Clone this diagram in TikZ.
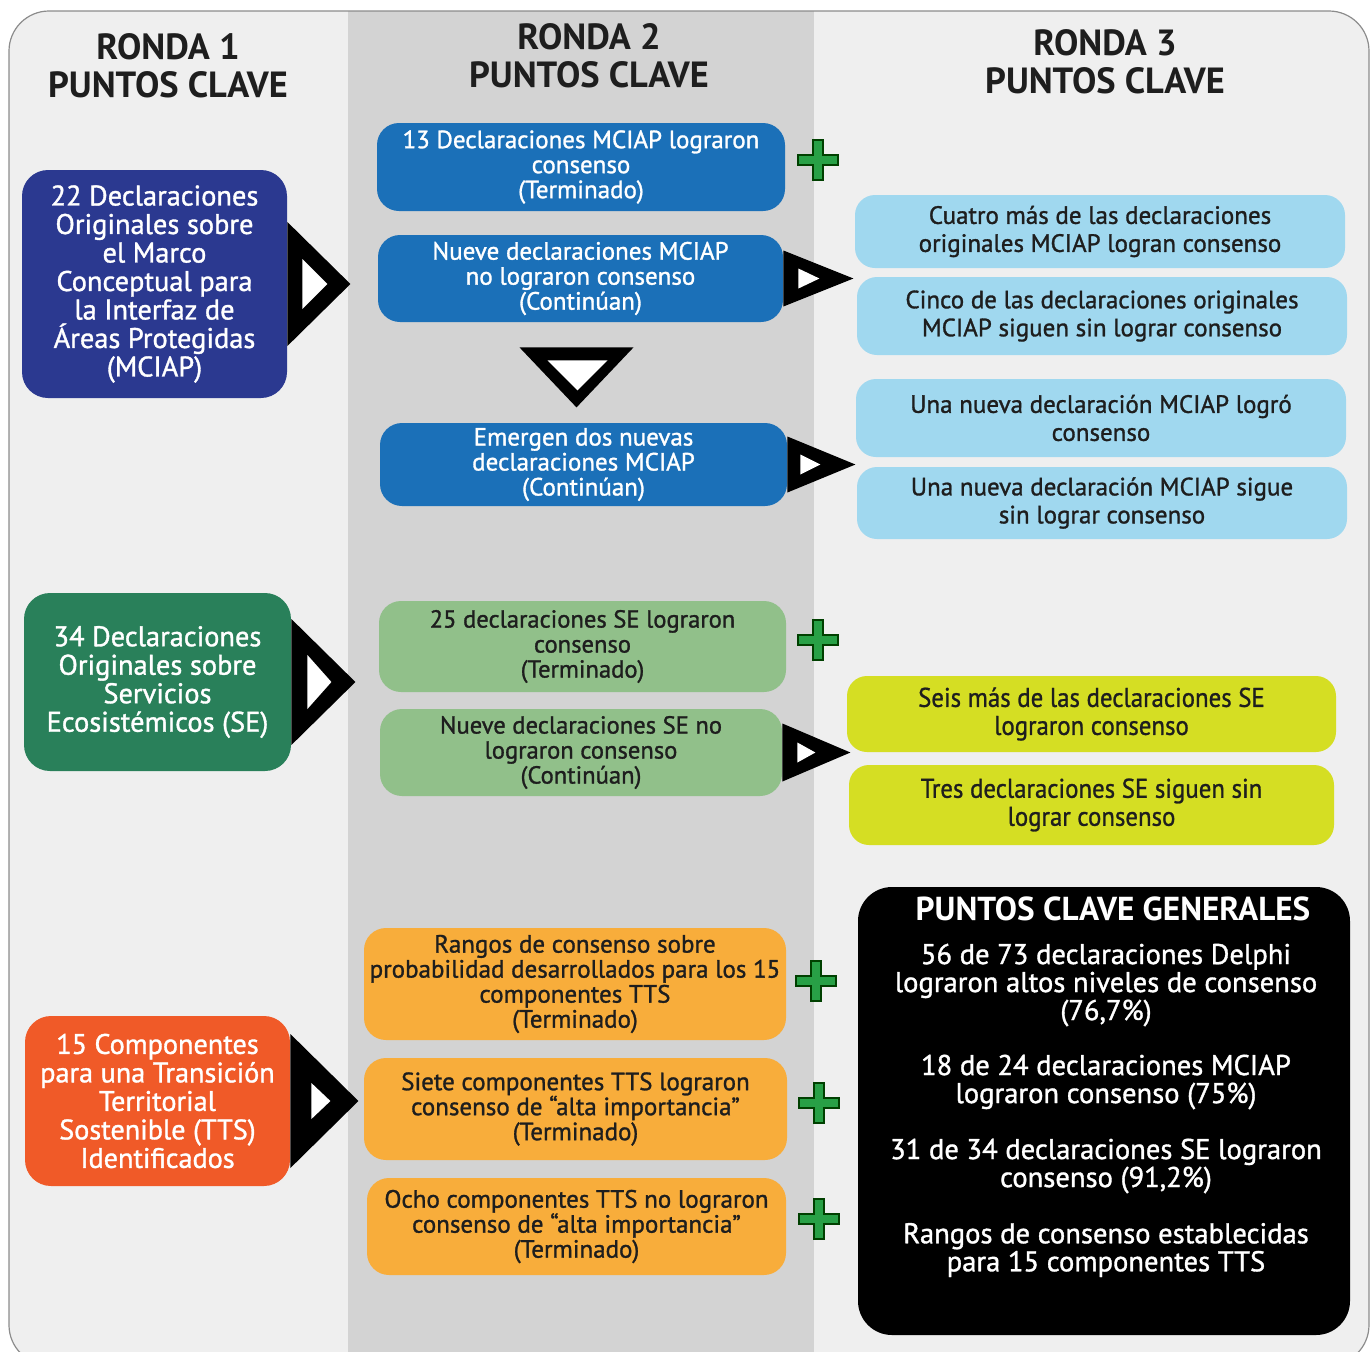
\documentclass[tikz,border=0pt]{standalone}
\usepackage{fontspec}
\setmainfont{PT Sans}
\newfontfamily\bodyf{PT Sans}[FakeBold=1.2]
\newfontfamily\condf{PT Sans}[FakeStretch=0.92,FakeBold=1.0]
\newfontfamily\headf{PT Sans}
\usetikzlibrary{calc}
\definecolor{bgc}{RGB}{239,239,239}
\definecolor{midc}{RGB}{211,211,211}
\definecolor{navyc}{RGB}{43,57,144}
\definecolor{bluec}{RGB}{27,112,184}
\definecolor{lbluec}{RGB}{160,216,239}
\definecolor{dgreenc}{RGB}{41,128,90}
\definecolor{lgreenc}{RGB}{145,192,138}
\definecolor{yellowc}{RGB}{213,222,35}
\definecolor{redc}{RGB}{240,90,40}
\definecolor{orangec}{RGB}{248,173,59}
\definecolor{plusc}{RGB}{40,160,70}
\definecolor{darkc}{RGB}{30,30,30}
\newcommand\rtri[6]{%
  \fill[black] ($(#1)+(0,-#3)$) -- ($(#1)+(#2,0)$) -- ($(#1)+(0,#3)$) -- cycle;
  \fill[white] ($(#1)+(#4,-#6)$) -- ($(#1)+(#5,0)$) -- ($(#1)+(#4,#6)$) -- cycle;}
\tikzset{
  x=0.5pt, y=-0.5pt,
  box/.style={rounded corners=11pt, align=center, inner sep=2pt},
  head/.style={align=center, font=\headf\bfseries\fontsize{18.2}{19}\selectfont, text=darkc},
  plusmark/.pic={\filldraw[fill=plusc, draw=black!75!green, line width=0.6pt]
    (-5,-20) -- (5,-20) -- (5,-5) -- (20,-5) -- (20,5) -- (5,5) -- (5,20) -- (-5,20)
    -- (-5,5) -- (-20,5) -- (-20,-5) -- (-5,-5) -- cycle;}
}
\begin{document}
\begin{tikzpicture}
\useasboundingbox (0,0) rectangle (1372,1351);
\fill[white] (0,0) rectangle (1372,1351);
\begin{scope}
  \clip[rounded corners=20pt] (9,11) rectangle (1369,1365);
  \fill[bgc] (0,0) rectangle (1372,1400);
  \fill[midc] (348,0) rectangle (814,1400);
\end{scope}
\draw[black!45, line width=0.6pt, rounded corners=20pt] (9,11) rectangle (1369,1365);

% headers
\node[head] (h1) at (168,66) {RONDA 1\\PUNTOS CLAVE};
\node[head] (h2) at (589,56) {RONDA 2\\PUNTOS CLAVE};
\node[head] (h3) at (1105,62) {RONDA 3\\PUNTOS CLAVE};

% left boxes
\node[box, rounded corners=13pt, fill=navyc, text=white, minimum width=132.5pt, minimum height=114pt,
  font=\bodyf\fontsize{14.2}{14.25}\selectfont] (navy) at (154.5,284)
  {22 Declaraciones\\Originales sobre\\el Marco\\Conceptual para\\la Interfaz de\\Áreas Protegidas\\(MCIAP)};
\node[box, rounded corners=13pt, fill=dgreenc, text=white, minimum width=133.5pt, minimum height=89pt,
  font=\bodyf\fontsize{14.2}{14.25}\selectfont] (dgreen) at (157.5,682)
  {34 Declaraciones\\Originales sobre\\Servicios\\Ecosistémicos (SE)};
\node[box, rounded corners=13pt, fill=redc, text=white, minimum width=132.5pt, minimum height=85pt,
  font=\bodyf\fontsize{14.1}{14.25}\selectfont] (red) at (157.5,1101)
  {15 Componentes\\para una Transición\\Territorial\\Sostenible (TTS)\\Identificados};

% middle blue boxes
\node[box, fill=bluec, text=white, minimum width=204pt, minimum height=44pt,
  font=\bodyf\fontsize{12.5}{12.5}\selectfont] (b1) at (581,167)
  {13 Declaraciones MCIAP lograron\\consenso\\(Terminado)};
\node[box, fill=bluec, text=white, minimum width=202.5pt, minimum height=43.5pt,
  font=\bodyf\fontsize{12.5}{12.5}\selectfont] (b2) at (580.5,278.5)
  {Nueve declaraciones MCIAP\\no lograron consenso\\(Continúan)};
\node[box, fill=bluec, text=white, minimum width=203.5pt, minimum height=41.5pt,
  font=\bodyf\fontsize{12.5}{12.5}\selectfont] (b3) at (583.5,464.5)
  {Emergen dos nuevas\\declaraciones MCIAP\\(Continúan)};

% light blue boxes
\tikzset{lb/.style={box, rounded corners=10pt, fill=lbluec, text=darkc, minimum width=245pt,
  font=\bodyf\fontsize{12.5}{14}\selectfont}}
\node[lb, minimum height=36.5pt] (lb1) at (1100,231.5)
  {Cuatro más de las declaraciones\\originales MCIAP logran consenso};
\node[lb, minimum height=39pt] (lb2) at (1102,316)
  {Cinco de las declaraciones originales\\MCIAP siguen sin lograr consenso};
\node[lb, minimum height=39pt] (lb3) at (1101,418)
  {Una nueva declaración MCIAP logró\\consenso};
\node[lb, minimum height=36pt] (lb4) at (1102,503)
  {Una nueva declaración MCIAP sigue\\sin lograr consenso};

% middle green boxes
\tikzset{lg/.style={box, fill=lgreenc, text=darkc, font=\bodyf\fontsize{12.3}{12.5}\selectfont}}
\node[lg, minimum width=203.5pt, minimum height=45.5pt] (g1) at (582.5,646.5)
  {25 declaraciones SE lograron\\consenso\\(Terminado)};
\node[lg, minimum width=201pt, minimum height=43.5pt] (g2) at (581,752.5)
  {Nueve declaraciones SE no\\lograron consenso\\(Continúan)};

% yellow boxes
\tikzset{yb/.style={box, rounded corners=10pt, fill=yellowc, text=darkc, font=\condf\fontsize{13.5}{14}\selectfont}}
\node[yb, minimum width=244.5pt, minimum height=38pt] (y1) at (1091.5,714)
  {Seis más de las declaraciones SE\\lograron consenso};
\node[yb, minimum width=242.5pt, minimum height=40pt] (y2) at (1091.5,805)
  {Tres declaraciones SE siguen sin\\lograr consenso};

% orange boxes
\tikzset{ob/.style={box, fill=orangec, text=darkc, font=\bodyf\fontsize{12.5}{12.5}\selectfont}}
\node[ob, minimum width=211pt, minimum height=56pt] (o1) at (575,984)
  {Rangos de consenso sobre\\probabilidad desarrollados para los 15\\componentes TTS\\(Terminado)};
\node[ob, minimum width=211.5pt, minimum height=51pt] (o2) at (575.5,1109)
  {Siete componentes TTS lograron\\consenso de “alta importancia”\\(Terminado)};
\node[ob, minimum width=209.5pt, minimum height=48.5pt] (o3) at (576.5,1226.5)
  {Ocho componentes TTS no lograron\\consenso de “alta importancia”\\(Terminado)};

% black summary box
\node[box, rounded corners=17pt, fill=black, minimum width=246pt, minimum height=224pt] (sum) at (1104,1111) {};
\node[font=\headf\bfseries\fontsize{16.6}{18}\selectfont, text=white] (sumt) at (1113,909) {PUNTOS CLAVE GENERALES};
\tikzset{sb/.style={align=center, text=white, font=\bodyf\fontsize{14.3}{14}\selectfont}}
\node[sb] (s1) at (1106,985) {56 de 73 declaraciones Delphi\\lograron altos niveles de consenso\\(76,7\%)};
\node[sb] (s2) at (1106,1082) {18 de 24 declaraciones MCIAP\\lograron consenso (75\%)};
\node[sb] (s3) at (1106,1166) {31 de 34 declaraciones SE lograron\\consenso (91,2\%)};
\node[sb] (s4) at (1106,1250) {Rangos de consenso establecidas\\para 15 componentes TTS};

% arrow heads
\rtri{navy.east}{63}{62}{15}{40}{25}
\rtri{dgreen.east}{64}{63}{16}{40}{27}
\rtri{red.east}{68}{67}{21}{40}{18}
\rtri{b2.east}{70}{28}{15}{36}{10}
\rtri{b3.east}{68}{28}{13}{33}{10}
\rtri{g2.east}{68}{29}{15}{33}{10}
\fill[black] ($(b2.south)+(-61,25)$) -- ($(b2.south)+(53,25)$) -- ($(b2.south)+(-4,85)$) -- cycle;
\fill[white] ($(b2.south)+(-33,38)$) -- ($(b2.south)+(27,38)$) -- ($(b2.south)+(-3,68)$) -- cycle;

% plus marks
\pic at (818,160) {plusmark};
\pic at (818,640) {plusmark};
\pic at (816,981) {plusmark};
\pic at (819,1103) {plusmark};
\pic at (819,1219) {plusmark};
\end{tikzpicture}
\end{document}
